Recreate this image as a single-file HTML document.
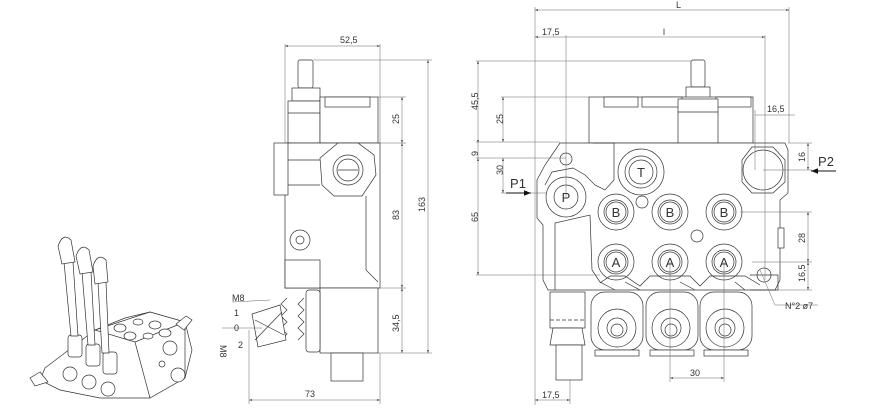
<!DOCTYPE html>
<html><head><meta charset="utf-8"><style>
html,body{margin:0;padding:0;background:#fff;width:882px;height:417px;overflow:hidden}
svg{display:block}
text{font-family:"Liberation Sans",sans-serif;fill:#333}
</style></head><body>
<svg width="882" height="417" viewBox="0 0 882 417" xmlns="http://www.w3.org/2000/svg">
<defs>
<marker id="ar" viewBox="0 0 10 10" refX="10" refY="5" markerWidth="6" markerHeight="6" orient="auto-start-reverse"><path d="M0,2L10,5L0,8z" fill="#333"/></marker>
<marker id="ab" viewBox="0 0 10 10" refX="10" refY="5" markerWidth="7" markerHeight="7" orient="auto"><path d="M0,1L10,5L0,9z" fill="#111"/></marker>
</defs>

<!-- ============ ISO VIEW ============ -->
<g fill="#fff" stroke="#333" stroke-width="0.7">
  <path d="M45,368 L95,330 L125,318 L150,312 L185,322 L192,350 L185,378 L150,398 L100,398 L60,390 L40,380 Z"/>
  <path d="M95,330 L150,312 L185,322 L135,342 Z"/>
  <path d="M135,342 L150,398 M185,322 L185,378"/>
  <ellipse cx="120" cy="328" rx="6" ry="4"/><ellipse cx="138" cy="322" rx="5" ry="3"/><ellipse cx="130" cy="336" rx="6" ry="4"/><ellipse cx="155" cy="325" rx="6" ry="4"/><ellipse cx="165" cy="333" rx="6" ry="4"/><ellipse cx="148" cy="336" rx="5" ry="3"/>
  <circle cx="170" cy="348" r="7"/><circle cx="178" cy="375" r="7"/><circle cx="162" cy="364" r="3"/>
  <path d="M40,372 L30,378 L35,386 L48,382 Z"/>
  <path d="M176,324 L186,316 L192,320 L184,330 Z"/>
  <rect x="68" y="335" width="14" height="22" rx="3"/><rect x="86" y="344" width="14" height="22" rx="3"/><rect x="103" y="352" width="14" height="22" rx="3"/>
  <circle cx="70" cy="374" r="7"/><circle cx="89" cy="382" r="7"/><circle cx="108" cy="389" r="7"/>
  <path d="M64,262 L73,262 L78,336 L71,336 Z"/>
  <path d="M82,272 L91,272 L95,345 L88,345 Z"/>
  <path d="M98,282 L106,282 L109,353 L102,353 Z"/>
  <path d="M58,246 Q63,232 71,240 L75,262 L62,264 Z"/>
  <path d="M76,256 Q81,242 89,250 L93,272 L80,274 Z"/>
  <path d="M93,266 Q98,252 106,260 L108,282 L95,284 Z"/>
</g>

<!-- ============ SIDE VIEW ============ -->
<g fill="#fff" stroke="#333" stroke-width="0.7">
  <rect x="298" y="60" width="15" height="28" rx="2"/>
  <rect x="292" y="88" width="28" height="13"/>
  <rect x="288" y="101" width="32" height="42"/>
  <line x1="288" y1="113" x2="320" y2="113"/>
  <rect x="320" y="97" width="58" height="46"/>
  <rect x="325" y="97" width="45" height="10"/>
  <path d="M285,143 L380,143 L380,288 L285,288 Z"/>
  <rect x="274" y="143" width="14" height="52"/>
  <line x1="288" y1="160" x2="320" y2="160"/><line x1="288" y1="185" x2="320" y2="185"/>
  <polygon points="338,143 358,143 374,155 376,175 362,196 334,196 322,185 320,158" />
  <circle cx="348" cy="170" r="15"/><circle cx="348" cy="170" r="11"/>
  <line x1="338" y1="170" x2="358" y2="170"/>
  <circle cx="300" cy="240" r="10"/><circle cx="300" cy="240" r="4"/>
  <path d="M366,196 L366,270 L378,282"/>
  <rect x="285" y="260" width="35" height="28"/>
  <rect x="320" y="288" width="58" height="65"/>
  <rect x="331" y="353" width="32" height="28"/>
  <rect x="306" y="290" width="14" height="62" rx="3"/>
  <path d="M287,298 l-6,6 l6,6 l-6,6 l6,6 l-6,6 l6,6 l-6,6 M304,298 l-6,6 l6,6 l-6,6 l6,6 l-6,6 l6,6 l-6,6"/>
  <path d="M252,314 L280,305 L286,340 L258,347 Z"/>
  <line x1="255" y1="320" x2="284" y2="335"/><line x1="255" y1="340" x2="282" y2="312"/>
</g>
<g stroke="#666" stroke-width="0.5" fill="none">
  <line x1="285" y1="46" x2="380" y2="46" marker-start="url(#ar)" marker-end="url(#ar)"/>
  <line x1="285" y1="44" x2="285" y2="143"/><line x1="380" y1="44" x2="380" y2="143"/>
  <line x1="428" y1="60" x2="428" y2="353" marker-start="url(#ar)" marker-end="url(#ar)"/>
  <line x1="313" y1="60" x2="432" y2="60"/>
  <line x1="402" y1="97" x2="402" y2="143" marker-start="url(#ar)" marker-end="url(#ar)"/>
  <line x1="402" y1="143" x2="402" y2="288" marker-start="url(#ar)" marker-end="url(#ar)"/>
  <line x1="402" y1="288" x2="402" y2="353" marker-start="url(#ar)" marker-end="url(#ar)"/>
  <line x1="378" y1="97" x2="406" y2="97"/><line x1="380" y1="143" x2="406" y2="143"/><line x1="380" y1="288" x2="406" y2="288"/><line x1="378" y1="353" x2="432" y2="353"/>
  <line x1="249" y1="400" x2="380" y2="400" marker-start="url(#ar)" marker-end="url(#ar)"/>
  <line x1="249" y1="330" x2="249" y2="404"/><line x1="380" y1="353" x2="380" y2="404"/>
  <line x1="222" y1="328" x2="262" y2="328"/><line x1="232" y1="302" x2="270" y2="300"/>
</g>
<g font-size="9">
  <text x="340" y="43">52,5</text>
  <text x="305" y="397">73</text>
  <text transform="translate(399,124) rotate(-90)">25</text>
  <text transform="translate(399,220) rotate(-90)">83</text>
  <text transform="translate(399,332) rotate(-90)">34,5</text>
  <text transform="translate(425,212) rotate(-90)">163</text>
  <text x="232" y="301">M8</text>
  <text x="234" y="316">1</text>
  <text x="234" y="331">0</text>
  <text x="238" y="348">2</text>
  <text transform="translate(220,345) rotate(90)">M8</text>
</g>

<!-- ============ FRONT VIEW ============ -->
<g fill="#fff" stroke="#333" stroke-width="0.7">
  <rect x="691" y="60" width="14" height="27" rx="2"/>
  <rect x="686" y="87" width="24" height="12"/>
  <rect x="589" y="97" width="164" height="46"/>
  <rect x="604" y="97" width="34" height="10"/><rect x="642" y="97" width="40" height="10"/><rect x="716" y="97" width="35" height="10"/>
  <rect x="678" y="99" width="40" height="44"/>
  <line x1="678" y1="112" x2="718" y2="112"/>
  <path d="M560,143 L785,143 L788,150 L788,193 L780,200 L780,280 L775,290 L548,290 L543,280 L543,225 L537,218 L537,180 L545,165 Z"/>
  <path d="M593,143 L614,143 L614,180 L605,190 L595,185 L585,175 L573,168 L552,172 L545,185" fill="none"/>
  <path d="M555,290 L555,223 L590,215 L592,270 L600,282 L615,290 M625,282 L640,290 M680,282 L695,290 M735,282 L745,290" fill="none"/>
  <path d="M600,283 L610,276 L625,276 L640,286 L650,276 L690,276 L700,286 L710,276 L745,276 L760,285" fill="none"/>
  <path d="M750,275 L778,275 L778,290 L750,290" fill="none"/>
  <rect x="778" y="228" width="6" height="20"/>
  <rect x="591" y="292" width="52" height="58" rx="14"/><rect x="646" y="292" width="52" height="58" rx="14"/><rect x="700" y="292" width="52" height="58" rx="14"/>
  <rect x="595" y="350" width="44" height="6"/><rect x="650" y="350" width="44" height="6"/><rect x="704" y="350" width="44" height="6"/>
  <rect x="550" y="292" width="35" height="36"/>
  <line x1="550" y1="320" x2="585" y2="320" stroke-dasharray="4,2"/>
  <path d="M553,328 L582,328 L585,345 L550,345 Z"/>
  <rect x="556" y="345" width="26" height="35"/>
</g>
<g fill="none" stroke="#333" stroke-width="0.7">
  <circle cx="617" cy="328" r="19"/><circle cx="617" cy="328" r="10"/><circle cx="617" cy="330" r="6"/>
  <circle cx="671" cy="328" r="19"/><circle cx="671" cy="328" r="10"/><circle cx="671" cy="330" r="6"/>
  <circle cx="725" cy="328" r="19"/><circle cx="725" cy="328" r="10"/><circle cx="725" cy="330" r="6"/>
  <circle cx="641" cy="172" r="23"/><circle cx="641" cy="172" r="16"/><circle cx="641" cy="172" r="12"/>
  <circle cx="566" cy="197" r="20"/><circle cx="566" cy="197" r="12"/>
  <circle cx="616" cy="212" r="18"/><circle cx="616" cy="212" r="12"/><circle cx="616" cy="212" r="10"/>
  <circle cx="670" cy="212" r="18"/><circle cx="670" cy="212" r="12"/><circle cx="670" cy="212" r="10"/>
  <circle cx="724" cy="212" r="18"/><circle cx="724" cy="212" r="12"/><circle cx="724" cy="212" r="10"/>
  <circle cx="616" cy="262" r="18"/><circle cx="616" cy="262" r="12"/><circle cx="616" cy="262" r="10"/>
  <circle cx="670" cy="262" r="18"/><circle cx="670" cy="262" r="12"/><circle cx="670" cy="262" r="10"/>
  <circle cx="724" cy="262" r="18"/><circle cx="724" cy="262" r="12"/><circle cx="724" cy="262" r="10"/>
  <circle cx="642" cy="202" r="6"/><circle cx="697" cy="236" r="6"/><circle cx="566" cy="159" r="6"/>
  <polygon points="752,147 773,147 785,160 785,182 773,193 752,193 742,182 742,160"/>
  <circle cx="763" cy="170" r="20"/>
  <circle cx="764" cy="275" r="7"/>
</g>
<g stroke="#666" stroke-width="0.5" fill="none">
  <line x1="535" y1="10" x2="789" y2="10" marker-start="url(#ar)" marker-end="url(#ar)"/>
  <line x1="535" y1="7" x2="535" y2="405"/><line x1="789" y1="7" x2="789" y2="143"/>
  <line x1="535" y1="37" x2="765" y2="37" marker-start="url(#ar)" marker-end="url(#ar)"/>
  <line x1="566" y1="35" x2="566" y2="197"/><line x1="765" y1="35" x2="765" y2="280"/>
  <line x1="478" y1="61" x2="478" y2="143" marker-start="url(#ar)" marker-end="url(#ar)"/>
  <line x1="478" y1="143" x2="478" y2="158"/>
  <line x1="478" y1="158" x2="478" y2="275" marker-start="url(#ar)" marker-end="url(#ar)"/>
  <line x1="503" y1="97" x2="503" y2="142" marker-start="url(#ar)" marker-end="url(#ar)"/>
  <line x1="503" y1="158" x2="503" y2="193" marker-start="url(#ar)" marker-end="url(#ar)"/>
  <line x1="476" y1="61" x2="691" y2="61"/><line x1="501" y1="97" x2="589" y2="97"/><line x1="476" y1="142" x2="560" y2="142"/><line x1="476" y1="158" x2="566" y2="158"/><line x1="501" y1="193" x2="546" y2="193"/><line x1="476" y1="275" x2="600" y2="275"/>
  <line x1="755" y1="115" x2="795" y2="115"/>
  <line x1="755" y1="110" x2="755" y2="170"/>
  <line x1="808" y1="143" x2="808" y2="170" marker-start="url(#ar)" marker-end="url(#ar)"/>
  <line x1="808" y1="212" x2="808" y2="262" marker-start="url(#ar)" marker-end="url(#ar)"/>
  <line x1="808" y1="262" x2="808" y2="290" marker-start="url(#ar)" marker-end="url(#ar)"/>
  <line x1="788" y1="143" x2="812" y2="143"/><line x1="763" y1="170" x2="812" y2="170"/><line x1="740" y1="212" x2="812" y2="212"/><line x1="752" y1="262" x2="812" y2="262"/><line x1="778" y1="290" x2="812" y2="290"/>
  <line x1="670" y1="378" x2="724" y2="378" marker-start="url(#ar)" marker-end="url(#ar)"/>
  <line x1="670" y1="262" x2="670" y2="382"/><line x1="724" y1="262" x2="724" y2="382"/>
  <line x1="535" y1="400" x2="570" y2="400" marker-start="url(#ar)" marker-end="url(#ar)"/>
  <line x1="570" y1="380" x2="570" y2="404"/>
  <line x1="760" y1="270" x2="775" y2="305"/><line x1="775" y1="305" x2="818" y2="305"/>
</g>
<g stroke="#111" stroke-width="1" fill="none">
  <line x1="506" y1="193" x2="531" y2="193" marker-end="url(#ab)"/>
  <line x1="836" y1="171" x2="811" y2="171" marker-end="url(#ab)"/>
</g>
<g font-size="9">
  <text x="676" y="8">L</text>
  <text x="663" y="35">l</text>
  <text x="542" y="35">17,5</text>
  <text transform="translate(478,110) rotate(-90)">45,5</text>
  <text transform="translate(478,222) rotate(-90)">65</text>
  <text transform="translate(478,156) rotate(-90)">9</text>
  <text transform="translate(503,124) rotate(-90)">25</text>
  <text transform="translate(503,175) rotate(-90)">30</text>
  <text x="767" y="112">16,5</text>
  <text transform="translate(805,162) rotate(-90)">16</text>
  <text transform="translate(805,243) rotate(-90)">28</text>
  <text transform="translate(805,282) rotate(-90)">16,5</text>
  <text x="785" y="309">N°2  ø7</text>
  <text x="690" y="376">30</text>
  <text x="542" y="398">17,5</text>
</g>
<g font-size="13" text-anchor="middle">
  <text x="641" y="177">T</text>
  <text x="566" y="202">P</text>
  <text x="616" y="217">B</text><text x="670" y="217">B</text><text x="724" y="217">B</text>
  <text x="616" y="267">A</text><text x="670" y="267">A</text><text x="724" y="267">A</text>
  <text x="518" y="188">P1</text>
  <text x="826" y="166">P2</text>
</g>
</svg>
</body></html>
